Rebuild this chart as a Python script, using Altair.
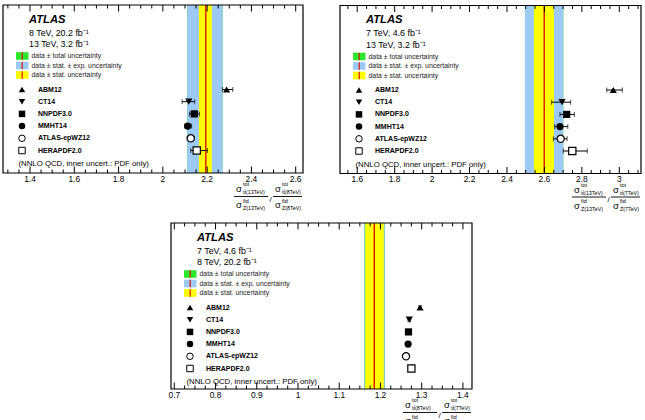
import math
import altair as alt
import pandas as pd

FONT = "Liberation Sans"

PDF_SETS = ["ABM12", "CT14", "NNPDF3.0", "MMHT14", "ATLAS-epWZ12", "HERAPDF2.0"]
SHAPES = ["triangle-up", "triangle-down", "square", "circle", "circle", "square"]
OPEN_SETS = ["ATLAS-epWZ12", "HERAPDF2.0"]
LEGEND_TEXT = ["data ± total uncertainty", "data ± stat. ± exp. uncertainty", "data ± stat. uncertainty"]
NOTE = "(NNLO QCD, inner uncert.: PDF only)"

# ---- panel 1 : 13 TeV / 8 TeV
P1_ENERGIES = ["8 TeV, 20.2 fb⁻¹", "13 TeV, 3.2 fb⁻¹"]
P1_DATA = 2.194
P1_STAT = [2.163, 2.221]
P1_STATEXP = [2.110, 2.270]
P1_TOTAL = [2.110, 2.270]
P1_PRED = [2.288, 2.117, 2.142, 2.112, 2.126, 2.153]
P1_PRED_LO = [2.269, 2.087, 2.120, 2.099, 2.110, 2.126]
P1_PRED_HI = [2.316, 2.144, 2.165, 2.130, 2.141, 2.201]
P1_XTICKS = [1.4, 1.6, 1.8, 2.0, 2.2, 2.4, 2.6]
P1_XRANGE = [1.278, 2.633]
P1_NUM = ["tt̄(13TeV)", "tt̄(8TeV)"]
P1_DEN = ["Z(13TeV)", "Z(8TeV)"]

# ---- panel 2 : 13 TeV / 7 TeV
P2_ENERGIES = ["7 TeV, 4.6 fb⁻¹", "13 TeV, 3.2 fb⁻¹"]
P2_DATA = 2.599
P2_STAT = [2.544, 2.651]
P2_STATEXP = [2.496, 2.701]
P2_TOTAL = [2.496, 2.701]
P2_PRED = [2.968, 2.694, 2.719, 2.683, 2.687, 2.749]
P2_PRED_LO = [2.933, 2.639, 2.683, 2.655, 2.648, 2.701]
P2_PRED_HI = [3.016, 2.740, 2.760, 2.725, 2.721, 2.829]
P2_XTICKS = [1.6, 1.8, 2.0, 2.2, 2.4, 2.6, 2.8, 3.0]
P2_XRANGE = [1.508, 3.116]
P2_NUM = ["tt̄(13TeV)", "tt̄(7TeV)"]
P2_DEN = ["Z(13TeV)", "Z(7TeV)"]

# ---- panel 3 : 8 TeV / 7 TeV
P3_ENERGIES = ["7 TeV, 4.6 fb⁻¹", "8 TeV, 20.2 fb⁻¹"]
P3_DATA = 1.185
P3_STAT = [1.163, 1.208]
P3_STATEXP = [1.160, 1.211]
P3_TOTAL = [1.160, 1.211]
P3_PRED = [1.296, 1.270, 1.268, 1.267, 1.262, 1.275]
P3_PRED_LO = [1.293, 1.267, 1.266, 1.265, 1.260, 1.272]
P3_PRED_HI = [1.299, 1.273, 1.270, 1.269, 1.264, 1.278]
P3_XTICKS = [0.7, 0.8, 0.9, 1.0, 1.1, 1.2, 1.3, 1.4]
P3_XRANGE = [0.692, 1.422]
P3_NUM = ["tt̄(8TeV)", "tt̄(7TeV)"]
P3_DEN = ["Z(8TeV)", "Z(7TeV)"]

GREEN = "#2ee62e"
BLUE = "#9ccaf4"
YELLOW = "#ffff00"
RED = "#dd1100"

ONE = alt.Data(values=[{"k": 0}])

ROW0 = 84.5
ROWSTEP = 12.2


def txt(s, x, y, size, weight="normal", style="normal", align="left", baseline="middle", color="black"):
    return alt.Chart(ONE).mark_text(
        text=s, align=align, baseline=baseline, font=FONT, fontSize=size,
        fontWeight=weight, fontStyle=style, color=color,
    ).encode(x=alt.value(x), y=alt.value(y))


def box(x1, x2, y1, y2, color):
    return alt.Chart(ONE).mark_rect(color=color).encode(
        x=alt.value(x1), x2=alt.value(x2), y=alt.value(y1), y2=alt.value(y2))


def frame(x1, x2, y1, y2):
    return alt.Chart(ONE).mark_rect(fill=None, filled=False, stroke="black", strokeWidth=1.2).encode(
        x=alt.value(x1), x2=alt.value(x2), y=alt.value(y1), y2=alt.value(y2))


def line(x1, x2, y1, y2, color="black", w=1.0):
    return alt.Chart(ONE).mark_rule(color=color, strokeWidth=w).encode(
        x=alt.value(x1), x2=alt.value(x2), y=alt.value(y1), y2=alt.value(y2))


def minor_ticks(xr, majors, ndiv):
    step = (majors[1] - majors[0]) / ndiv
    k0 = math.ceil(xr[0] / step - 1e-9)
    k1 = math.floor(xr[1] / step + 1e-9)
    vals = [round(k * step, 6) for k in range(k0, k1 + 1)]
    return [v for v in vals if all(abs(v - m) > 1e-6 for m in majors)]


def panel(x0, y0, W, H, xr, majors, energies, data, stat, statexp, total, pred, lo, hi,
          num, den, blue_opacity=1.0):
    xs = alt.Scale(domain=xr, range=[x0, x0 + W], nice=False, zero=False)
    n = len(PDF_SETS) - 1
    ys = alt.Scale(domain=[0, n], range=[y0 + ROW0, y0 + ROW0 + n * ROWSTEP], nice=False, zero=False)
    top, bot = y0, y0 + H

    def X(field):
        return alt.X(field, type="quantitative", scale=xs, axis=None)

    def Y(field):
        return alt.Y(field, type="quantitative", scale=ys, axis=None)

    bands = pd.DataFrame({
        "kind": ["total", "statexp", "stat"],
        "lo": [total[0], statexp[0], stat[0]],
        "hi": [total[1], statexp[1], stat[1]],
    })
    base_band = alt.Chart(bands)
    l_total = base_band.transform_filter(alt.datum.kind == "total").mark_rect(color=GREEN).encode(
        x=X("lo"), x2="hi", y=alt.value(top), y2=alt.value(bot))
    l_statexp = base_band.transform_filter(alt.datum.kind == "statexp").mark_rect(
        color=BLUE, opacity=blue_opacity).encode(x=X("lo"), x2="hi", y=alt.value(top), y2=alt.value(bot))
    l_stat = base_band.transform_filter(alt.datum.kind == "stat").mark_rect(color=YELLOW).encode(
        x=X("lo"), x2="hi", y=alt.value(top), y2=alt.value(bot))
    l_center = alt.Chart(pd.DataFrame({"v": [data]})).mark_rule(color=RED, strokeWidth=1.4).encode(
        x=X("v"), y=alt.value(top), y2=alt.value(bot))

    majors_df = pd.DataFrame({"t": majors, "lab": [f"{m:g}" for m in majors]})
    minors_df = pd.DataFrame({"t": minor_ticks(xr, majors, 4)})
    tick_layers = []
    for df, L in ((majors_df, 6.5), (minors_df, 3.5)):
        tick_layers.append(alt.Chart(df).mark_rule(color="black", strokeWidth=1).encode(
            x=X("t"), y=alt.value(bot), y2=alt.value(bot - L)))
        tick_layers.append(alt.Chart(df).mark_rule(color="black", strokeWidth=1).encode(
            x=X("t"), y=alt.value(top), y2=alt.value(top + L)))
    tick_labels = alt.Chart(majors_df).mark_text(
        align="center", baseline="top", font=FONT, fontSize=8.4, color="black").encode(
        x=X("t"), y=alt.value(bot + 1.5), text="lab:N")

    th = pd.DataFrame({"pdf": PDF_SETS, "row": list(range(len(PDF_SETS))),
                       "v": pred, "lo": lo, "hi": hi})
    th["open"] = th["pdf"].isin(OPEN_SETS)
    shape = alt.Shape("pdf:N", scale=alt.Scale(domain=PDF_SETS, range=SHAPES), legend=None)
    base_th = alt.Chart(th)
    l_err = base_th.mark_rule(color="black", strokeWidth=1).encode(x=X("lo"), x2="hi", y=Y("row"))
    l_cap_lo = base_th.mark_tick(color="black", orient="vertical", size=5, thickness=1).encode(
        x=X("lo"), y=Y("row"))
    l_cap_hi = base_th.mark_tick(color="black", orient="vertical", size=5, thickness=1).encode(
        x=X("hi"), y=Y("row"))
    l_fill = base_th.transform_filter("!datum.open").mark_point(
        filled=True, color="black", size=52, opacity=1).encode(x=X("v"), y=Y("row"), shape=shape)
    l_open = base_th.transform_filter("datum.open").mark_point(
        filled=True, fill="white", stroke="black", strokeWidth=1.2, size=52, opacity=1).encode(
        x=X("v"), y=Y("row"), shape=shape)
    lg_fill = base_th.transform_filter("!datum.open").mark_point(
        filled=True, color="black", size=42, opacity=1).encode(x=alt.value(x0 + 19), y=Y("row"), shape=shape)
    lg_open = base_th.transform_filter("datum.open").mark_point(
        filled=True, fill="white", stroke="black", strokeWidth=1.0, size=42, opacity=1).encode(
        x=alt.value(x0 + 19), y=Y("row"), shape=shape)
    lg_name = base_th.mark_text(align="left", baseline="middle", font=FONT, fontSize=7,
                                fontWeight="bold", color="black").encode(
        x=alt.value(x0 + 35), y=Y("row"), text="pdf:N")

    annos = [
        txt("ATLAS", x0 + 26, y0 + 14.5, 11.2, weight="bold", style="italic"),
        txt(energies[0], x0 + 26, y0 + 27.5, 8.9),
        txt(energies[1], x0 + 26, y0 + 39, 8.9),
    ]
    sw = [(GREEN, 51), (BLUE, 60.5), (YELLOW, 70)]
    for (c, yc), label in zip(sw, LEGEND_TEXT):
        annos.append(box(x0 + 13, x0 + 25.5, y0 + yc - 3.8, y0 + yc + 3.8, c))
        annos.append(line(x0 + 19.2, x0 + 19.2, y0 + yc - 3.8, y0 + yc + 3.8, RED, 1.2))
        annos.append(txt(label, x0 + 28.5, y0 + yc, 6.9, color="#222222"))
    annos.append(txt(NOTE, x0 + 15.5, y0 + 159, 7.8))

    title = []
    for k, (n_, d_) in enumerate(zip(num, den)):
        xl = x0 + W - (67 if k == 0 else 28)
        wline = 34 if k == 0 else 29
        title.append(txt("σ", xl, bot + 16, 9.5))
        title.append(txt("tot", xl + 7, bot + 11.2, 5.4))
        title.append(txt(n_, xl + 7, bot + 19, 5.4))
        title.append(line(xl - 2, xl - 2 + wline, bot + 23.5, bot + 23.5, "black", 0.9))
        title.append(txt("σ", xl, bot + 32, 9.5))
        title.append(txt("fid", xl + 7, bot + 27.5, 5.4))
        title.append(txt(d_, xl + 7, bot + 35, 5.4))
    title.append(txt("/", x0 + W - 33.5, bot + 26.5, 8))

    layers = [l_total, l_statexp, l_stat, l_center] + tick_layers + [tick_labels,
        l_err, l_cap_lo, l_cap_hi, l_fill, l_open, lg_fill, lg_open, lg_name] + annos + title + [
        frame(x0, x0 + W, top, bot)]
    return alt.layer(*layers)


p1 = panel(3, 5, 300, 168, P1_XRANGE, P1_XTICKS, P1_ENERGIES, P1_DATA, P1_STAT, P1_STATEXP, P1_TOTAL,
           P1_PRED, P1_PRED_LO, P1_PRED_HI, P1_NUM, P1_DEN)
p2 = panel(340, 5.5, 301, 168, P2_XRANGE, P2_XTICKS, P2_ENERGIES, P2_DATA, P2_STAT, P2_STATEXP, P2_TOTAL,
           P2_PRED, P2_PRED_LO, P2_PRED_HI, P2_NUM, P2_DEN)
p3 = panel(171, 223, 301, 166, P3_XRANGE, P3_XTICKS, P3_ENERGIES, P3_DATA, P3_STAT, P3_STATEXP, P3_TOTAL,
           P3_PRED, P3_PRED_LO, P3_PRED_HI, P3_NUM, P3_DEN, blue_opacity=0.75)

chart = alt.layer(p1, p2, p3).resolve_scale(x="independent", y="independent").properties(
    width=645, height=420,
    padding=0,
    autosize=alt.AutoSizeParams(type="none"),
    background="white",
).configure_view(stroke=None)

chart.save("out.html", embed_options={"renderer": "svg", "actions": False})
